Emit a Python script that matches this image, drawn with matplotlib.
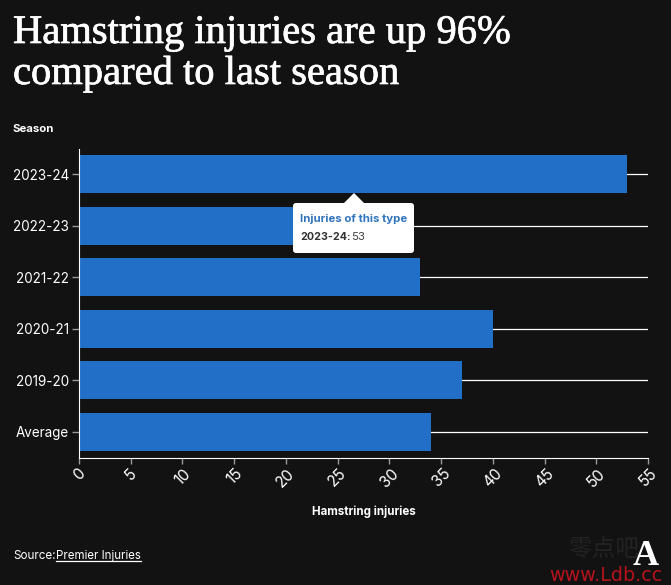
import matplotlib
matplotlib.use("Agg")
import matplotlib.pyplot as plt
import matplotlib.patheffects as pe
from matplotlib.patches import FancyBboxPatch, Polygon

plt.rcParams['font.family'] = ['Inter', 'DejaVu Sans']

W = 671
H = 585
BG = "#121212"
BLUE = "#226fc7"

seasons = ["2023-24", "2022-23", "2021-22", "2020-21", "2019-20", "Average"]
injuries = [53, 27, 33, 40, 37, 34]
xticks = list(range(0, 60, 5))


def px(x, y):
    # pixel position from top left -> figure fraction
    return x / W, 1 - y / H


def main():
    fig = plt.figure(figsize=(W / 100, H / 100), dpi=100, facecolor=BG)
    ax = fig.add_axes([79 / W, 1 - 457.5 / H, (648 - 79) / W, 309 / H], facecolor=BG)

    ys = list(range(len(seasons)))
    ax.hlines(ys, 0, 55, color="white", lw=0.9, zorder=1)
    ax.barh(ys, injuries, height=0.74, color=BLUE, zorder=2)

    ax.set_xlim(0, 55)
    ax.set_ylim(len(seasons) - 0.5, -0.5)
    ax.set_yticks(ys)
    ax.set_yticklabels(seasons, fontsize=9.7, color="white")
    ax.set_xticks(xticks)
    ax.set_xticklabels(xticks, fontsize=11, color="white", rotation=45, ha="center")
    ax.tick_params(axis="y", color="#999999", length=5, width=1, pad=2.2)
    ax.tick_params(axis="x", color="#999999", length=4.5, width=1, pad=1.5)

    for s in ["top", "right"]:
        ax.spines[s].set_visible(False)
    ax.spines["left"].set_color("white")
    ax.spines["bottom"].set_color("white")

    # title
    heavier = [pe.withStroke(linewidth=0.5, foreground="white")]
    fig.text(*px(13, 43), "Hamstring injuries are up 96%", family="Liberation Serif",
             fontsize=29.2, color="white", va="baseline", path_effects=heavier)
    fig.text(*px(13, 84), "compared to last season", family="Liberation Serif",
             fontsize=29.2, color="white", va="baseline", path_effects=heavier)

    fig.text(*px(12.5, 132), "Season", fontsize=8.2, fontweight="bold", color="white", va="baseline")
    fig.text(*px(363.5, 515), "Hamstring injuries", fontsize=8.3, fontweight="bold",
             color="white", ha="center", va="baseline")

    # source line with underlined link
    fig.text(*px(13, 559), "Source:", fontsize=8.4, color="white", va="baseline")
    fig.text(*px(56, 559), "Premier Injuries", fontsize=8.3, color="white", va="baseline")
    fig.add_artist(plt.Line2D([56 / W, 141 / W], [1 - 561 / H, 1 - 561 / H], color="white", lw=0.9))

    # tooltip, pixel coordinates (dpi 100 so display units == pixels)
    box = FancyBboxPatch((296, H - 250), 115, 44, boxstyle="round,pad=3",
                         transform=None, fc="white", ec="none", zorder=5)
    fig.add_artist(box)
    arrow = Polygon([(344, H - 203), (354, H - 193), (364, H - 203)], closed=True,
                    transform=None, fc="white", ec="none", zorder=5)
    fig.add_artist(arrow)
    fig.text(*px(300, 222), "Injuries of this type", fontsize=8.2, fontweight="bold",
             color="#2f74bd", va="baseline", zorder=6)
    fig.text(*px(300, 240), "2023-24:", fontsize=7.7, fontweight="bold",
             color="#333333", va="baseline", zorder=6)
    fig.text(*px(351, 240), "53", fontsize=8.2, color="#444444", va="baseline", zorder=6)

    # logo and watermark
    fig.text(*px(568, 556), "零点吧", family=["Noto Sans CJK SC", "DejaVu Sans"], fontsize=17,
             color="#232323", va="baseline", zorder=3)
    fig.text(*px(646, 565), "A", family="Liberation Serif", fontsize=26, fontweight="bold",
             color="white", ha="center", va="baseline", zorder=4)
    fig.text(*px(549, 581), "www.Ldb.cc", family="DejaVu Sans", fontsize=13.8,
             color="#b5121b", va="baseline", zorder=5)

    fig.savefig("out.png", dpi=100, facecolor=BG)


if __name__ == "__main__":
    main()
